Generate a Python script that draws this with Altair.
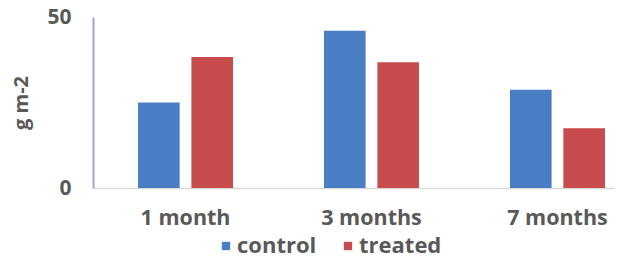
import altair as alt
import pandas as pd

periods = ["1 month", "3 months", "7 months"]
groups = ["control", "treated"]
control = [25, 46, 28.7]
treated = [38.3, 36.8, 17.5]

rows = []
for i, p in enumerate(periods):
    rows.append({"period": p, "group": "control", "value": control[i]})
    rows.append({"period": p, "group": "treated", "value": treated[i]})
df = pd.DataFrame(rows)

FONT = "Open Sans"
TXT = "#595959"

chart = alt.Chart(df).mark_bar().encode(
    x=alt.X("period:N", sort=periods, title=None,
            scale=alt.Scale(paddingInner=0.489, paddingOuter=0.148, align=0.818),
            axis=alt.Axis(labelAngle=0, ticks=False, domainColor="#d9d9d9", domainWidth=1.5,
                          labelFont=FONT, labelFontSize=21.5, labelFontWeight="bold",
                          labelColor=TXT, labelPadding=19, grid=False)),
    xOffset=alt.XOffset("group:N", sort=groups, scale=alt.Scale(paddingInner=0.22, paddingOuter=0)),
    y=alt.Y("value:Q", title="g m-2",
            scale=alt.Scale(domain=[0, 50], nice=False),
            axis=alt.Axis(values=[0, 50], ticks=False, grid=False, domainColor="#9aa6d6",
                          domainWidth=2, labelFont=FONT, labelFontSize=21, labelFontWeight="bold",
                          labelColor=TXT, labelPadding=22, titleFont=FONT, titleFontSize=20,
                          titleFontWeight="bold", titleColor=TXT, titlePadding=15)),
    color=alt.Color("group:N", sort=groups, title=None,
                    scale=alt.Scale(domain=groups, range=["#4a7ec4", "#c84b4e"]),
                    legend=alt.Legend(orient="none", legendX=122, legendY=218, direction="horizontal",
                                      symbolType="square", symbolSize=70, symbolStrokeWidth=0,
                                      labelFont=FONT, labelFontSize=22, labelFontWeight="bold",
                                      labelColor=TXT, columnPadding=20, padding=0, labelOffset=0)),
).properties(
    width=522, height=171,
    padding={"left": 85, "top": 9, "right": 0, "bottom": 67},
    autosize=alt.AutoSizeParams(type="none"),
).configure_view(stroke=None)

chart.save("out.html", embed_options={"renderer": "svg", "actions": False})
